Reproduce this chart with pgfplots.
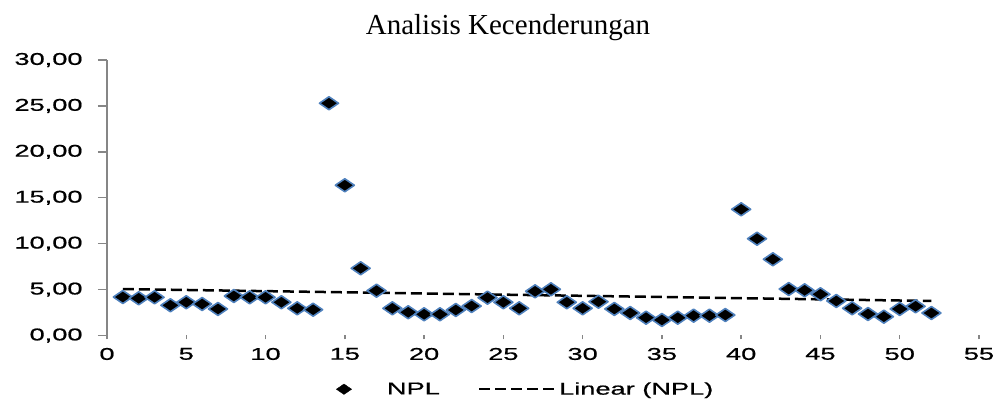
\documentclass[border=0pt]{standalone}
\usepackage{pgfplots}
\pgfplotsset{compat=1.18}
\usepackage{fontspec}
\setmainfont{Liberation Serif}
\newfontfamily\axfont[FakeStretch=1.6, FakeBold=0.8]{Liberation Sans}
\definecolor{mblue}{RGB}{79,129,189}
\definecolor{axgray}{RGB}{134,134,134}
\pgfdeclareplotmark{xdiamond}{%
  \pgfpathmoveto{\pgfqpoint{0pt}{6.5pt}}%
  \pgfpathlineto{\pgfqpoint{9.5pt}{0pt}}%
  \pgfpathlineto{\pgfqpoint{0pt}{-6.5pt}}%
  \pgfpathlineto{\pgfqpoint{-9.5pt}{0pt}}%
  \pgfpathclose
  \pgfusepathqfillstroke}
\pgfplotsset{
  nplleg/.style={legend image code/.code={\path[draw=none,fill=none] (-8pt,0pt) -- (43pt,0pt); \draw[##1,mark options={scale=0.8}] plot coordinates {(0pt,0pt)};}},
  linleg/.style={legend image code/.code={\path[draw=none,fill=none] (0pt,0pt) -- (80pt,0pt); \draw[##1] (0pt,0pt) -- (75pt,0pt);}},
}
\pgfplotstableread{
x y
1 4.19
2 4.05
3 4.16
4 3.29
5 3.62
6 3.43
7 2.89
8 4.30
9 4.16
10 4.16
11 3.62
12 2.96
13 2.81
14 25.29
15 16.36
16 7.32
17 4.88
18 2.96
19 2.53
20 2.31
21 2.31
22 2.78
23 3.21
24 4.12
25 3.62
26 2.96
27 4.81
28 5.03
29 3.62
30 2.96
31 3.68
32 2.89
33 2.45
34 1.94
35 1.69
36 1.94
37 2.16
38 2.16
39 2.23
40 13.74
41 10.54
42 8.30
43 5.06
44 4.92
45 4.49
46 3.76
47 2.96
48 2.34
49 2.05
50 2.89
51 3.18
52 2.45
}\npldata
\begin{document}
\begin{tikzpicture}
\path[use as bounding box] (0,0) rectangle (995pt,401pt);
\node[anchor=base, font=\fontsize{29pt}{34pt}\selectfont, inner sep=0pt] at (508pt,366pt) {Analisis Kecenderungan};
\begin{axis}[
  at={(107pt,65.5pt)}, anchor=south west,
  scale only axis, width=872pt, height=275.5pt,
  xmin=0, xmax=55, ymin=0, ymax=30,
  xtick={0,5,...,55}, ytick={0,5,...,30},
  axis lines*=left,
  axis line style={-},
  x axis line style={draw=none},
  y axis line style={draw=axgray, line width=1.5pt},
  tick align=outside,
  xtick style={draw=axgray, line width=1.5pt, /pgfplots/major tick length=4pt},
  ytick style={draw=axgray, line width=1.5pt, /pgfplots/major tick length=9pt},
  /pgf/number format/assume math mode=true,
  ticklabel style={font=\axfont\fontsize{17pt}{20pt}\selectfont, inner sep=0pt},
  yticklabel style={/pgf/number format/.cd, fixed, fixed zerofill, precision=2, use comma, /tikz/.cd, xshift=-20pt},
  xticklabel style={yshift=-8pt},
  clip=false,
  legend columns=2,
  legend style={draw=none, fill=none, inner sep=0pt, outer sep=0pt,
    at={(0.2626,-0.195)}, anchor=west,
    font=\axfont\fontsize{17pt}{20pt}\selectfont,
    nodes={inner sep=0pt},
    /tikz/column sep=0pt,
    /tikz/every even column/.append style={column sep=38pt}},
]
\addplot[only marks, mark=xdiamond, mark options={fill=black, draw=mblue, line width=1.6pt, line join=round}, nplleg]
  table[x=x, y=y] {\npldata};
\addlegendentry{NPL}
\addplot[black, line width=2.5pt, dash pattern=on 11pt off 5pt, linleg]
  coordinates {(1,5.06) (52,3.76)};
\addlegendentry{Linear (NPL)}
\end{axis}
\end{tikzpicture}
\end{document}
